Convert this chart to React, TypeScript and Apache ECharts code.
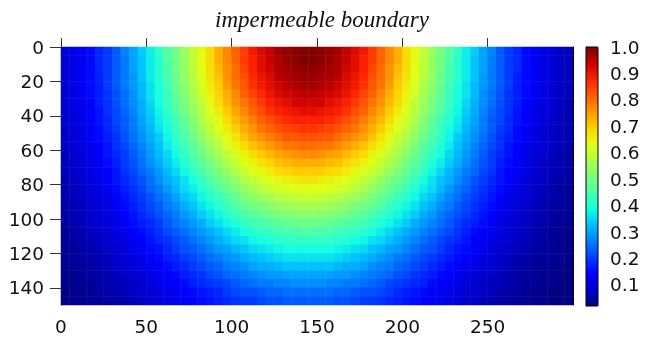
import React, { useEffect, useRef } from "react";
import * as echarts from "echarts";

// Cell left edges (units) of the concentration grid, 5-unit cells
const X_CELLS = [0,5,10,15,20,25,30,35,40,45,50,55,60,65,70,75,80,85,90,95,100,105,110,115,120,125,130,135,140,145,150,155,160,165,170,175,180,185,190,195,200,205,210,215,220,225,230,235,240,245,250,255,260,265,270,275,280,285,290,295];
const Y_CELLS = [0,5,10,15,20,25,30,35,40,45,50,55,60,65,70,75,80,85,90,95,100,105,110,115,120,125,130,135,140,145];

// Normalised concentration, in percent (row = depth band, col = x band)
const CONC_PCT: number[][] = [
  [10,11,13,15,18,20,23,27,30,34,37,42,46,50,55,59,64,68,73,77,81,85,89,92,94,97,98,99,100,100,99,98,97,94,92,89,85,81,77,73,68,64,59,55,50,46,42,37,34,30,27,23,20,18,15,13,11,10,8,7],
  [10,11,13,15,18,20,23,26,30,33,37,41,46,50,54,59,64,68,73,77,81,85,88,91,94,96,98,99,100,100,99,98,96,94,91,88,85,81,77,73,68,64,59,54,50,46,41,37,33,30,26,23,20,18,15,13,11,10,8,7],
  [10,11,13,15,18,20,23,26,30,33,37,41,45,50,54,59,63,68,72,76,80,84,88,91,93,96,97,98,99,99,98,97,96,93,91,88,84,80,76,72,68,63,59,54,50,45,41,37,33,30,26,23,20,18,15,13,11,10,8,7],
  [10,11,13,15,17,20,23,26,29,33,37,41,45,49,54,58,63,67,71,76,80,83,87,90,92,95,96,97,98,98,97,96,95,92,90,87,83,80,76,71,67,63,58,54,49,45,41,37,33,29,26,23,20,17,15,13,11,10,8,7],
  [9,11,13,15,17,20,23,26,29,32,36,40,44,49,53,57,62,66,70,75,79,82,86,89,91,93,95,96,97,97,96,95,93,91,89,86,82,79,75,70,66,62,57,53,49,44,40,36,32,29,26,23,20,17,15,13,11,9,8,7],
  [9,11,13,15,17,19,22,25,28,32,36,39,43,48,52,56,61,65,69,73,77,81,84,87,90,92,93,94,95,95,94,93,92,90,87,84,81,77,73,69,65,61,56,52,48,43,39,36,32,28,25,22,19,17,15,13,11,9,8,7],
  [9,11,12,14,17,19,22,25,28,31,35,39,43,47,51,55,59,64,68,72,76,79,82,85,88,90,91,93,93,93,93,91,90,88,85,82,79,76,72,68,64,59,55,51,47,43,39,35,31,28,25,22,19,17,14,12,11,9,8,6],
  [9,10,12,14,16,19,21,24,27,31,34,38,42,46,50,54,58,62,66,70,74,77,81,83,86,88,89,90,91,91,90,89,88,86,83,81,77,74,70,66,62,58,54,50,46,42,38,34,31,27,24,21,19,16,14,12,10,9,7,6],
  [9,10,12,14,16,18,21,23,26,30,33,37,41,44,48,52,57,61,64,68,72,75,78,81,83,85,87,88,88,88,88,87,85,83,81,78,75,72,68,64,61,57,52,48,44,41,37,33,30,26,23,21,18,16,14,12,10,9,7,6],
  [8,10,11,13,15,18,20,23,26,29,32,36,39,43,47,51,55,59,63,66,70,73,76,79,81,83,84,85,86,86,85,84,83,81,79,76,73,70,66,63,59,55,51,47,43,39,36,32,29,26,23,20,18,15,13,11,10,8,7,6],
  [8,9,11,13,15,17,19,22,25,28,31,34,38,42,45,49,53,57,60,64,67,71,74,76,78,80,82,82,83,83,82,82,80,78,76,74,71,67,64,60,57,53,49,45,42,38,34,31,28,25,22,19,17,15,13,11,9,8,7,6],
  [8,9,11,12,14,16,19,21,24,27,30,33,37,40,44,47,51,55,58,62,65,68,71,73,75,77,79,79,80,80,79,79,77,75,73,71,68,65,62,58,55,51,47,44,40,37,33,30,27,24,21,19,16,14,12,11,9,8,7,6],
  [7,9,10,12,14,16,18,20,23,26,29,32,35,39,42,46,49,53,56,59,62,65,68,70,72,74,75,76,77,77,76,75,74,72,70,68,65,62,59,56,53,49,46,42,39,35,32,29,26,23,20,18,16,14,12,10,9,7,6,5],
  [7,8,10,11,13,15,17,20,22,25,28,31,34,37,40,44,47,50,54,57,60,63,65,67,69,71,72,73,73,73,73,72,71,69,67,65,63,60,57,54,50,47,44,40,37,34,31,28,25,22,20,17,15,13,11,10,8,7,6,5],
  [7,8,9,11,13,14,16,19,21,24,26,29,32,35,38,42,45,48,51,54,57,60,62,64,66,68,69,70,70,70,70,69,68,66,64,62,60,57,54,51,48,45,42,38,35,32,29,26,24,21,19,16,14,13,11,9,8,7,6,5],
  [6,8,9,10,12,14,16,18,20,22,25,28,31,33,36,39,43,46,49,51,54,57,59,61,63,64,65,66,67,67,66,65,64,63,61,59,57,54,51,49,46,43,39,36,33,31,28,25,22,20,18,16,14,12,10,9,8,6,5,5],
  [6,7,8,10,11,13,15,17,19,21,24,26,29,32,35,37,40,43,46,49,51,54,56,58,60,61,62,63,63,63,63,62,61,60,58,56,54,51,49,46,43,40,37,35,32,29,26,24,21,19,17,15,13,11,10,8,7,6,5,4],
  [6,7,8,9,11,12,14,16,18,20,22,25,27,30,33,35,38,41,43,46,48,51,53,55,56,58,59,59,60,60,59,59,58,56,55,53,51,48,46,43,41,38,35,33,30,27,25,22,20,18,16,14,12,11,9,8,7,6,5,4],
  [5,6,7,9,10,11,13,15,17,19,21,23,26,28,31,33,36,38,41,43,46,48,50,51,53,54,55,56,56,56,56,55,54,53,51,50,48,46,43,41,38,36,33,31,28,26,23,21,19,17,15,13,11,10,9,7,6,5,5,4],
  [5,6,7,8,9,11,12,14,16,18,20,22,24,26,29,31,34,36,38,41,43,45,47,48,50,51,52,52,53,53,52,52,51,50,48,47,45,43,41,38,36,34,31,29,26,24,22,20,18,16,14,12,11,9,8,7,6,5,4,4],
  [5,6,7,8,9,10,11,13,15,17,18,20,23,25,27,29,31,34,36,38,40,42,44,45,46,47,48,49,49,49,49,48,47,46,45,44,42,40,38,36,34,31,29,27,25,23,20,18,17,15,13,11,10,9,8,7,6,5,4,3],
  [4,5,6,7,8,9,11,12,14,15,17,19,21,23,25,27,29,31,33,35,37,39,41,42,43,44,45,45,46,46,45,45,44,43,42,41,39,37,35,33,31,29,27,25,23,21,19,17,15,14,12,11,9,8,7,6,5,4,4,3],
  [4,5,6,7,8,9,10,11,13,14,16,18,19,21,23,25,27,29,31,33,35,36,38,39,40,41,42,42,42,42,42,42,41,40,39,38,36,35,33,31,29,27,25,23,21,19,18,16,14,13,11,10,9,8,7,6,5,4,3,3],
  [4,4,5,6,7,8,9,10,12,13,15,16,18,20,22,23,25,27,29,30,32,33,35,36,37,38,39,39,39,39,39,39,38,37,36,35,33,32,30,29,27,25,23,22,20,18,16,15,13,12,10,9,8,7,6,5,4,4,3,3],
  [4,4,5,6,6,7,8,10,11,12,14,15,17,18,20,21,23,25,26,28,29,31,32,33,34,35,36,36,36,36,36,36,35,34,33,32,31,29,28,26,25,23,21,20,18,17,15,14,12,11,10,8,7,6,6,5,4,4,3,3],
  [3,4,4,5,6,7,8,9,10,11,12,14,15,17,18,20,21,23,24,26,27,28,30,31,31,32,33,33,33,33,33,33,32,31,31,30,28,27,26,24,23,21,20,18,17,15,14,12,11,10,9,8,7,6,5,4,4,3,3,2],
  [3,3,4,5,5,6,7,8,9,10,11,13,14,15,17,18,19,21,22,24,25,26,27,28,29,29,30,30,30,30,30,30,29,29,28,27,26,25,24,22,21,19,18,17,15,14,13,11,10,9,8,7,6,5,5,4,3,3,3,2],
  [3,3,4,4,5,6,7,7,8,9,10,12,13,14,15,17,18,19,20,21,23,24,25,26,26,27,27,28,28,28,28,27,27,26,26,25,24,23,21,20,19,18,17,15,14,13,12,10,9,8,7,7,6,5,4,4,3,3,2,2],
  [2,3,3,4,5,5,6,7,8,9,9,11,12,13,14,15,16,17,18,20,21,22,22,23,24,24,25,25,25,25,25,25,24,24,23,22,22,21,20,18,17,16,15,14,13,12,11,9,9,8,7,6,5,5,4,3,3,2,2,2],
  [2,3,3,4,4,5,5,6,7,8,9,10,11,12,13,14,15,16,17,18,19,20,20,21,22,22,23,23,23,23,23,23,22,22,21,20,20,19,18,17,16,15,14,13,12,11,10,9,8,7,6,5,5,4,4,3,3,2,2,2],
];

const X_TICKS = [0, 50, 100, 150, 200, 250];
const Y_TICKS = [0, 20, 40, 60, 80, 100, 120, 140];
const CBAR_TICKS = [0.1, 0.2, 0.3, 0.4, 0.5, 0.6, 0.7, 0.8, 0.9, 1.0];
const CBAR_MIN = 0.02;
const CBAR_MAX = 1.0;
const TITLE = "impermeable boundary";

const JET = [
  "#000080", "#0000c8", "#0000ff", "#0040ff", "#0080ff", "#00bfff", "#14ffe2", "#48ffaf",
  "#7bff7b", "#afff48", "#e2ff14", "#ffd200", "#ff9700", "#ff5c00", "#ff2100", "#c80000", "#800000",
];

const FONT = "'DejaVu Sans', sans-serif";
const LINE = "#000";
const TICK = "#333";

export default function App() {
  const ref = useRef<HTMLDivElement>(null);
  useEffect(() => {
    if (!ref.current) return;
    const chart = echarts.init(ref.current, null, { renderer: "svg" });
    const data: number[][] = [];
    CONC_PCT.forEach((row, yi) => {
      row.forEach((v, xi) => data.push([xi, yi, v / 100]));
    });
    const lbl = { fontSize: 18.5, color: "#111", fontFamily: FONT };
    chart.setOption({
      animation: false,
      textStyle: { fontFamily: FONT },
      grid: [
        { left: 61, top: 47, width: 512, height: 258 },
        { left: 586, top: 47, width: 12, height: 259, show: true, borderColor: LINE, borderWidth: 1, backgroundColor: "transparent", z: 10 },
      ],
      xAxis: [
        { type: "category", gridIndex: 0, data: X_CELLS, show: false, position: "bottom" },
        {
          type: "value", gridIndex: 0, min: 0, max: 300, position: "bottom",
          axisLine: { show: true, lineStyle: { color: LINE, width: 1 } },
          axisTick: { show: true, length: 9, lineStyle: { color: TICK }, customValues: X_TICKS },
          axisLabel: { ...lbl, margin: 12, customValues: X_TICKS },
          splitLine: { show: false },
        },
        {
          type: "value", gridIndex: 0, min: 0, max: 300, position: "top",
          axisLine: { show: true, lineStyle: { color: LINE, width: 1 } },
          axisTick: { show: true, length: 9, lineStyle: { color: TICK }, customValues: X_TICKS },
          axisLabel: { show: false },
          splitLine: { show: false },
        },
        { type: "value", gridIndex: 1, min: 0, max: 1, show: false },
      ],
      yAxis: [
        { type: "category", gridIndex: 0, data: Y_CELLS, show: false, inverse: true, position: "left" },
        {
          type: "value", gridIndex: 0, min: 0, max: 150, inverse: true, position: "left",
          axisLine: { show: true, lineStyle: { color: LINE, width: 1 } },
          axisTick: { show: true, length: 11, lineStyle: { color: TICK }, customValues: Y_TICKS },
          axisLabel: { ...lbl, margin: 17, customValues: Y_TICKS },
          splitLine: { show: false },
        },
        {
          type: "value", gridIndex: 0, min: 0, max: 150, inverse: true, position: "right",
          axisLine: { show: true, lineStyle: { color: LINE, width: 1 } },
          axisTick: { show: false },
          axisLabel: { show: false },
          splitLine: { show: false },
        },
        {
          type: "value", gridIndex: 1, min: CBAR_MIN, max: CBAR_MAX, position: "right",
          axisLine: { show: true, lineStyle: { color: LINE, width: 1 } },
          axisTick: { show: true, length: 10, lineStyle: { color: TICK }, customValues: CBAR_TICKS },
          axisLabel: { ...lbl, margin: 12, customValues: CBAR_TICKS, formatter: (v: number) => v.toFixed(1) },
          splitLine: { show: false },
        },
      ],
      visualMap: {
        type: "continuous",
        min: CBAR_MIN,
        max: CBAR_MAX,
        seriesIndex: 0,
        dimension: 2,
        calculable: false,
        left: 586,
        top: 47,
        itemWidth: 12,
        itemHeight: 259,
        padding: 0,
        inRange: { color: JET },
        outOfRange: { color: ["#000080"] },
        showLabel: false,
      },
      graphic: [
        {
          type: "text",
          x: 322,
          y: 19,
          style: {
            text: TITLE,
            font: 'italic 23px "Liberation Serif"',
            fill: "#111",
            textAlign: "center",
            textVerticalAlign: "middle",
          },
        },
      ],
      series: [
        {
          type: "heatmap",
          xAxisIndex: 0,
          yAxisIndex: 0,
          data,
          itemStyle: { borderWidth: 0 },
          emphasis: { disabled: true },
        },
      ],
    });
    return () => chart.dispose();
  }, []);
  return <div ref={ref} style={{ position: "fixed", left: 0, top: 0, width: 645, height: 340 }} />;
}
